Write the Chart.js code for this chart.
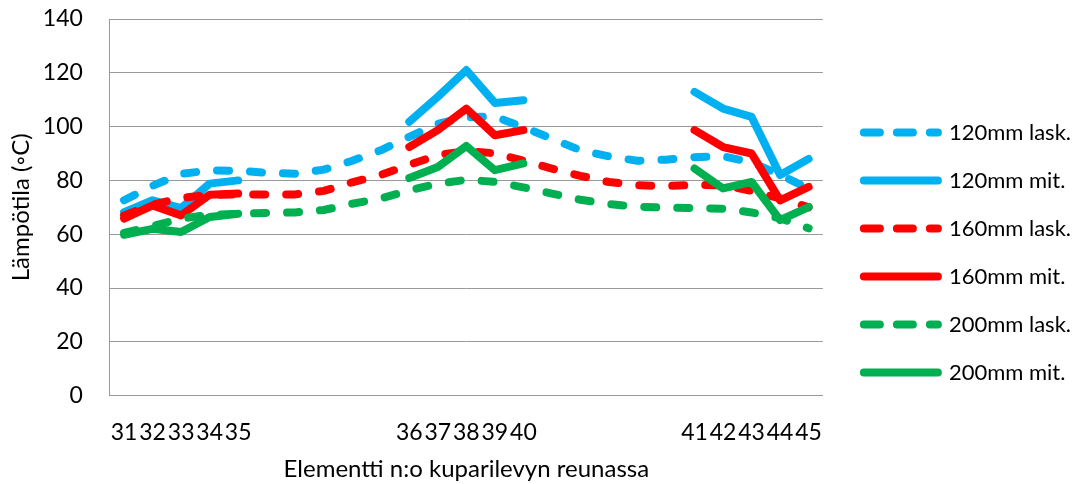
<!DOCTYPE html>
<html>
<head>
<meta charset="utf-8">
<script src="https://cdn.jsdelivr.net/npm/chart.js@4.4.1/dist/chart.umd.min.js"></script>
<style>
  html, body { margin: 0; padding: 0; background: #fff; }
  #wrap { width: 1083px; height: 484px; }
</style>
</head>
<body>
<div id="wrap"><canvas id="chart"></canvas></div>
<script>
// elementit 31-45, välissä tyhjät kategoriat (laskettu käyrä jatkuu)
const categories = [
  "31", "32", "33", "34", "35", "", "", "", "", "",
  "36", "37", "38", "39", "40", "", "", "", "", "",
  "41", "42", "43", "44", "45"
];

const lask120 = [72.6, 78, 82.4, 83.7, 83.6, 82.8, 82.5, 84, 87.3, 91.2,
  96.2, 101, 103.5, 103.7, 99.8, 95.5, 91.2, 88.9, 87.3, 87.7,
  88.6, 89, 86.7, 82, 77];
const mit120 = [68.2, 72.6, 69.7, 78.8, 80, null, null, null, null, null,
  101.8, 111.1, 121, 108.8, 109.8, null, null, null, null, null,
  112.9, 106.7, 103.6, 82, 88];
const lask160 = [67, 71, 73.5, 74.6, 74.8, 74.8, 74.8, 76.1, 79.3, 82,
  85.8, 89.4, 90.9, 90.1, 87.3, 84.4, 81.7, 79.4, 78.2, 77.9,
  78.3, 78.2, 76.1, 73.3, 70];
const mit160 = [65.8, 70.7, 67, 74.7, 75.1, null, null, null, null, null,
  92.4, 98.7, 106.7, 96.8, 98.7, null, null, null, null, null,
  98.7, 92.4, 90, 72.6, 77.6];
const lask200 = [60.5, 63, 65.8, 67.2, 67.6, 67.9, 68.1, 69, 71.3, 73.3,
  76.3, 78.8, 80.2, 79.5, 77.4, 75.1, 72.8, 71.2, 70.2, 69.9,
  69.7, 69.5, 68.1, 65.9, 62.2];
const mit200 = [59.8, 62, 60.8, 66.4, 67.6, null, null, null, null, null,
  80.9, 85, 92.8, 83.8, 86.3, null, null, null, null, null,
  84.4, 77, 79.4, 65.2, 70.1];

const yTicks = [0, 20, 40, 60, 80, 100, 120, 140];

const BLUE = "#00B0F0";
const RED = "#FF0000";
const GREEN = "#00B050";
const GRID = "#999999";
const FONT = "Lato";

function line(label, data, color, dashed, order) {
  return {
    label,
    data,
    borderColor: color,
    backgroundColor: color,
    borderWidth: 8,
    borderDash: dashed ? [12, 21] : [],
    borderCapStyle: "round",
    borderJoinStyle: "round",
    pointRadius: 0,
    tension: 0,
    spanGaps: false,
    fill: false,
    order, // myöhempi sarja päällimmäiseksi kuten Excelissä
  };
}

// siirtää selitettä oikealle, jotta piirtoalueen ja selitteen väli on leveämpi
const legendShift = {
  id: "legendShift",
  afterLayout(chart) {
    const lg = chart.legend;
    lg.left += 15;
    lg.right += 15;
    lg.top += 1;
    lg.bottom += 1;
  },
};

new Chart(document.getElementById("chart"), {
  type: "line",
  data: {
    labels: categories,
    datasets: [
      line("120mm lask.", lask120, BLUE, true, 6),
      line("120mm mit.", mit120, BLUE, false, 5),
      line("160mm lask.", lask160, RED, true, 4),
      line("160mm mit.", mit160, RED, false, 3),
      line("200mm lask.", lask200, GREEN, true, 2),
      line("200mm mit.", mit200, GREEN, false, 1),
    ],
  },
  options: {
    responsive: true,
    maintainAspectRatio: false,
    animation: false,
    layout: { padding: { left: 3, right: 17, top: 19, bottom: 0 } },
    plugins: {
      tooltip: { enabled: false },
      legend: {
        position: "right",
        labels: {
          font: { family: FONT, size: 22 },
          color: "#000",
          boxWidth: 74,
          boxHeight: 0,
          padding: 26,
          sort: (a, b) => a.datasetIndex - b.datasetIndex,
        },
      },
    },
    scales: {
      x: {
        type: "category",
        offset: true,
        grid: { display: false, drawTicks: true, tickLength: 20 },
        border: { display: true, color: GRID, width: 1 },
        ticks: {
          autoSkip: false,
          maxRotation: 0,
          minRotation: 0,
          padding: 3,
          color: "#000",
          font: { family: FONT, size: 23 },
        },
        title: {
          display: true,
          text: "Elementti n:o kuparilevyn reunassa",
          color: "#000",
          font: { family: FONT, size: 24 },
          padding: { top: 6, bottom: 0 },
        },
      },
      y: {
        min: 0,
        max: 140,
        afterBuildTicks(scale) {
          scale.ticks = yTicks.map((v) => ({ value: v }));
        },
        grid: {
          color: GRID,
          lineWidth: 1,
          drawTicks: true,
          tickLength: 24,
          tickColor: "rgba(0,0,0,0)",
        },
        border: { display: true, color: GRID, width: 1 },
        ticks: {
          padding: 3,
          color: "#000",
          font: { family: FONT, size: 23 },
        },
        title: {
          display: true,
          text: "Lämpötila (◦C)",
          color: "#000",
          font: { family: FONT, size: 24 },
          padding: { top: 4, bottom: 4 },
        },
      },
    },
  },
  plugins: [legendShift],
});
</script>
</body>
</html>
